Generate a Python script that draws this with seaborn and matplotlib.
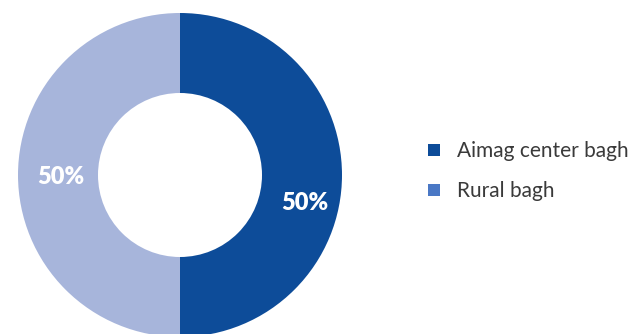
import matplotlib
matplotlib.use("Agg")
import matplotlib.pyplot as plt
from matplotlib.lines import Line2D
import seaborn as sns

# Share of baghs by location
categories = ["Aimag center bagh", "Rural bagh"]
shares = [50, 50]
slice_colors = ["#0D4C99", "#A7B5DB"]
legend_colors = ["#0D4C99", "#4A78C5"]

sns.set_theme(style="white")
plt.rcParams["font.family"] = ["Lato", "DejaVu Sans"]

W, H = 642, 334
fig = plt.figure(figsize=(W / 100, H / 100), dpi=100)
ax = fig.add_axes([0, 0, 1, 1])

cx, cy, r_out, r_in = 180, H - 175, 162, 82
wedges, _ = ax.pie(
    shares,
    colors=slice_colors,
    startangle=90,
    counterclock=False,
    radius=r_out,
    center=(cx, cy),
    wedgeprops=dict(width=r_out - r_in, linewidth=0),
    frame=True,
)
ax.set_xlim(0, W)
ax.set_ylim(0, H)
ax.set_aspect("equal")
ax.axis("off")

# Percentage labels inside the ring
label_offsets = [(125, -28), (-119, -2)]
for val, (dx, dy) in zip(shares, label_offsets):
    ax.text(cx + dx, cy + dy, f"{val}%", color="white", fontsize=17,
            fontweight="heavy", ha="center", va="center")

handles = [Line2D([0], [0], marker="s", linestyle="none", markersize=8,
                  markerfacecolor=c, markeredgewidth=0) for c in legend_colors]
leg = fig.legend(handles, categories, loc="center left",
                 bbox_to_anchor=(405 / W, 1 - 171 / H), frameon=False,
                 fontsize=15, labelcolor="#3A3A3A", handletextpad=0.6,
                 labelspacing=0.95, handlelength=1.0)

fig.savefig("out.png", dpi=100)
